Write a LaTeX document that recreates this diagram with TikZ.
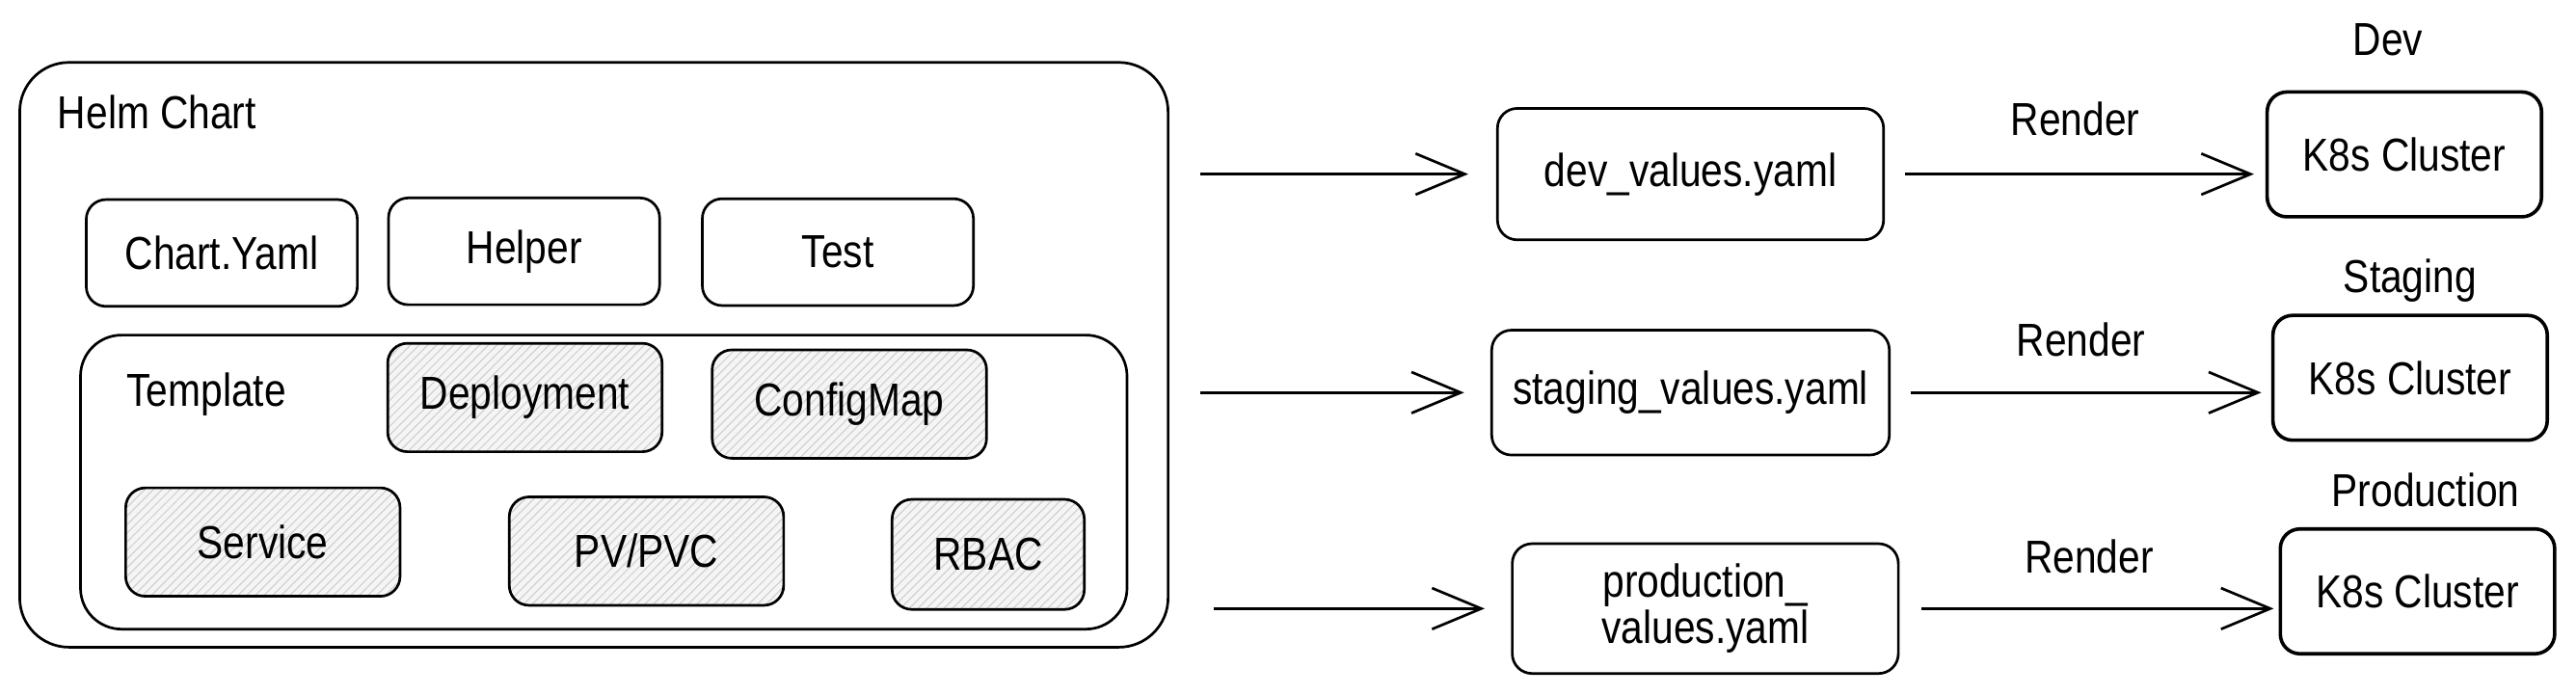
\documentclass[tikz,border=0pt]{standalone}
\usepackage{fontspec}
\setmainfont{Liberation Sans}[FakeStretch=0.85]
\usetikzlibrary{positioning,arrows.meta,patterns}
\tikzstyle{box} = [rectangle, rounded corners=0.24cm, draw=black, line width=0.9pt, text centered, minimum width=3.3cm, minimum height=1.3cm]
\tikzstyle{hatched} = [box, minimum width=3.34cm, minimum height=1.32cm, preaction={fill=gray!8}, pattern=north east lines, pattern color=gray!35]
\tikzstyle{valbox} = [box, minimum width=4.7cm, minimum height=1.56cm, align=center]
\tikzstyle{cluster} = [box, line width=1.2pt, minimum width=3.34cm, minimum height=1.52cm]
\tikzstyle{arrow} = [line width=0.9pt, -{Straight Barb[length=0.6cm, width=0.5cm]}]

\begin{document}
\begin{tikzpicture}[node distance=2cm, font=\fontsize{16}{16}\selectfont]
    \useasboundingbox (0,0) rectangle (31.36,-8.46);
    \node (helm) [box, rounded corners=0.6cm, minimum width=13.98cm, minimum height=7.12cm] at (7.23,-4.32) {};
    \node (helmlbl) [anchor=west] at (0.58,-1.36) {Helm Chart};
    \node (chart) [box] at (2.70,-3.08) {Chart.Yaml};
    \node (helper) [box] at (6.38,-3.06) {Helper};
    \node (test) [box] at (10.2,-3.07) {Test};
    \node (template) [box, rounded corners=0.5cm, minimum width=12.74cm, minimum height=3.58cm] at (7.35,-5.87) {};
    \node (templlbl) [anchor=west] at (1.42,-4.80) {Template};
    \node (deploy) [hatched] at (6.39,-4.84) {Deployment};
    \node (configmap) [hatched] at (10.34,-4.92) {ConfigMap};
    \node (service) [hatched] at (3.2,-6.6) {Service};
    \node (pvpvc) [hatched] at (7.87,-6.71) {PV/PVC};
    \node (rbac) [hatched, minimum width=2.34cm, minimum height=1.34cm] at (12.03,-6.75) {RBAC};
    \node (devv) [valbox, minimum height=1.6cm] at (20.58,-2.12) {dev\_values.yaml};
    \node (stgv) [valbox, minimum width=4.84cm, minimum height=1.52cm] at (20.58,-4.78) {staging\_values.yaml};
    \node (prodv) [valbox, minimum height=1.58cm] at (20.76,-7.41) {production\_\\values.yaml};
    \node (k8sdev) [cluster] at (29.27,-1.88) {K8s Cluster};
    \node (k8sstg) [cluster] at (29.34,-4.6) {K8s Cluster};
    \node (k8sprod) [cluster] at (29.43,-7.2) {K8s Cluster};
    \node (devlbl) [above=0.3cm of k8sdev, xshift=-0.2cm] {Dev};
    \node (stglbl) [above=0.02cm of k8sstg] {Staging};
    \node (prodlbl) [above=0.12cm of k8sprod, xshift=0.1cm] {Production};
    \draw [arrow, shorten <=0.38cm, shorten >=0.34cm] (helm.east |- devv.west) -- (devv.west);
    \draw [arrow, shorten <=0.38cm, shorten >=0.32cm] (helm.east |- stgv.west) -- (stgv.west);
    \draw [arrow, shorten <=0.54cm, shorten >=0.32cm] (helm.east |- prodv.west) -- (prodv.west);
    \draw [arrow, shorten <=0.24cm, shorten >=0.14cm] (devv.east) -- (devv.east -| k8sdev.west) node[midway, above=0.33cm] {Render};
    \draw [arrow, shorten <=0.24cm, shorten >=0.12cm] (stgv.east) -- (stgv.east -| k8sstg.west) node[midway, above=0.3cm] {Render};
    \draw [arrow, shorten <=0.26cm, shorten >=0.06cm] (prodv.east) -- (prodv.east -| k8sprod.west) node[midway, above=0.3cm] {Render};
\end{tikzpicture}
\end{document}
